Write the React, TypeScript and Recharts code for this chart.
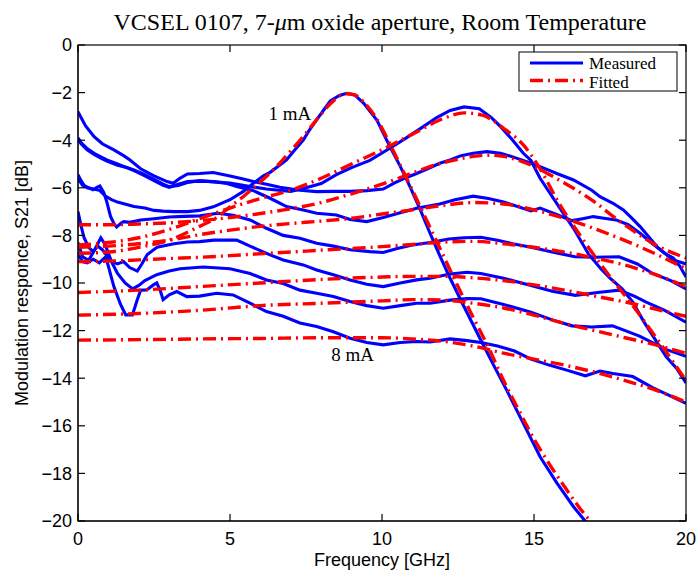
import React from 'react';
import { LineChart, Line, XAxis, YAxis, ReferenceDot } from 'recharts';

const xTicks = [0, 5, 10, 15, 20];
const yTicks = [0, -2, -4, -6, -8, -10, -12, -14, -16, -18, -20];

// Measured responses [frequency GHz, S21 dB]
const measured1mA = [[0,-5.6],[0.15,-5.9],[0.3,-6.0],[0.5,-6.05],[0.7,-6.1],[0.9,-6.35],[1.1,-6.5],[1.3,-6.6],[1.6,-6.7],[1.84,-6.79],[2.2,-6.85],[2.5,-6.95],[2.8,-6.98],[3.16,-7.0],[3.6,-7.0],[4.0,-6.95],[4.45,-6.8],[5.0,-6.5],[5.44,-6.15],[5.77,-5.81],[6.1,-5.5],[6.32,-5.35],[6.86,-4.83],[7.1,-4.45],[7.41,-3.99],[7.6,-3.6],[7.85,-3.15],[8.1,-2.7],[8.3,-2.35],[8.6,-2.12],[8.84,-2.03],[9.1,-2.1],[9.4,-2.45],[9.83,-3.15],[10.26,-4.27],[10.6,-5.1],[10.92,-5.95],[11.25,-6.9],[11.58,-7.91],[11.9,-8.85],[12.24,-9.8],[12.7,-11.0],[13.22,-12.32],[13.65,-13.4],[14.1,-14.5],[14.65,-15.9],[15.2,-17.3],[15.75,-18.4],[16.3,-19.4],[16.68,-20.0],[17.0,-20.6]];
const measured2mA = [[0,-3.9],[0.1,-4.1],[0.3,-4.35],[0.53,-4.55],[0.75,-4.7],[0.95,-4.83],[1.3,-5.0],[1.6,-5.15],[1.84,-5.25],[2.2,-5.45],[2.5,-5.65],[2.8,-5.85],[3.0,-5.95],[3.3,-5.9],[3.6,-5.78],[4.0,-5.7],[4.47,-5.75],[5.0,-5.8],[5.66,-5.95],[6.2,-6.05],[6.6,-6.1],[7.0,-6.15],[7.5,-6.0],[8.0,-5.82],[8.5,-5.45],[9.0,-5.15],[9.6,-4.85],[10.26,-4.34],[10.8,-3.9],[11.36,-3.43],[11.8,-3.05],[12.24,-2.75],[12.7,-2.6],[13.2,-2.68],[13.6,-3.05],[13.9,-3.43],[14.3,-4.0],[14.65,-4.55],[14.9,-4.85],[15.2,-5.6],[15.6,-6.37],[15.9,-6.95],[16.3,-7.7],[16.8,-8.8],[17.2,-9.4],[17.5,-9.8],[17.9,-10.25],[18.25,-10.8],[18.6,-11.6],[18.9,-12.2],[19.35,-13.1],[19.7,-13.6],[20,-14.2]];
const measured3mA = [[0,-2.8],[0.1,-3.05],[0.25,-3.4],[0.53,-3.85],[0.8,-4.15],[1.18,-4.41],[1.5,-4.65],[1.71,-4.83],[2.06,-5.2],[2.5,-5.5],[2.93,-5.74],[3.13,-5.81],[3.35,-5.6],[3.6,-5.42],[4.0,-5.4],[4.45,-5.36],[5.0,-5.5],[5.4,-5.62],[5.77,-5.74],[6.2,-5.85],[6.64,-5.98],[7.3,-6.1],[7.85,-6.16],[8.4,-6.15],[8.95,-6.15],[9.5,-6.12],[10.04,-6.05],[10.4,-5.8],[10.7,-5.62],[11.1,-5.42],[11.5,-5.2],[11.9,-4.97],[12.24,-4.83],[12.6,-4.65],[13.0,-4.55],[13.45,-4.48],[13.9,-4.55],[14.3,-4.7],[14.76,-4.9],[15.2,-5.11],[15.75,-5.4],[16.3,-5.67],[16.9,-6.1],[17.17,-6.37],[17.6,-6.65],[17.94,-6.93],[18.2,-7.25],[18.49,-7.63],[18.8,-8.1],[19.04,-8.47],[19.35,-8.8],[19.58,-9.03],[20,-9.2]];
const measured4mA = [[0,-3.95],[0.1,-4.15],[0.3,-4.4],[0.53,-4.6],[0.75,-4.75],[0.95,-4.88],[1.3,-5.05],[1.6,-5.15],[1.84,-5.28],[2.2,-5.5],[2.5,-5.7],[2.8,-5.9],[3.0,-5.98],[3.3,-5.85],[3.6,-5.74],[4.0,-5.72],[4.47,-5.74],[4.9,-5.82],[5.22,-5.95],[5.77,-6.12],[6.32,-6.44],[6.86,-6.79],[7.41,-6.93],[7.85,-7.07],[8.5,-7.14],[8.95,-7.33],[9.5,-7.42],[10.04,-7.25],[10.6,-7.05],[11.14,-6.86],[11.9,-6.68],[12.4,-6.5],[13.0,-6.35],[13.5,-6.45],[14.0,-6.6],[14.9,-6.97],[15.2,-6.85],[15.7,-7.1],[16.25,-7.38],[16.6,-7.3],[16.95,-7.21],[17.3,-7.28],[17.7,-7.35],[18.1,-7.55],[18.49,-7.91],[18.9,-8.35],[19.3,-8.75],[19.58,-8.95],[19.8,-9.3],[20,-9.75]];
const measured5mA = [[0,-5.45],[0.1,-5.7],[0.2,-5.9],[0.35,-6.0],[0.5,-6.08],[0.62,-5.98],[0.72,-5.92],[0.85,-6.2],[0.95,-6.6],[1.07,-7.2],[1.18,-7.5],[1.27,-7.65],[1.4,-7.5],[1.5,-7.42],[1.7,-7.45],[2.06,-7.35],[2.5,-7.3],[3.0,-7.23],[3.5,-7.2],[4.0,-7.18],[4.6,-7.07],[5.1,-7.15],[5.66,-7.35],[6.2,-7.7],[6.75,-8.0],[7.3,-8.12],[7.85,-8.33],[8.4,-8.45],[8.95,-8.6],[9.6,-8.68],[10.04,-8.72],[10.5,-8.55],[11.0,-8.4],[11.58,-8.3],[12.2,-8.15],[12.7,-8.1],[13.25,-8.08],[13.8,-8.2],[14.3,-8.35],[14.9,-8.5],[15.6,-8.7],[16.35,-8.9],[17.0,-8.92],[17.8,-8.9],[18.4,-9.2],[18.9,-9.6],[19.5,-9.9],[20,-10.25]];
const measured6mA = [[0,-7.0],[0.1,-7.6],[0.2,-8.1],[0.35,-8.5],[0.5,-8.68],[0.65,-8.45],[0.8,-8.6],[0.95,-8.85],[1.1,-9.1],[1.3,-9.2],[1.5,-9.1],[1.7,-9.35],[1.95,-9.5],[2.1,-9.2],[2.28,-8.8],[2.6,-8.5],[3.16,-8.35],[3.6,-8.28],[4.0,-8.26],[4.47,-8.2],[5.22,-8.2],[5.66,-8.45],[6.32,-8.82],[6.75,-9.03],[7.41,-9.24],[7.85,-9.45],[8.4,-9.65],[8.95,-9.87],[9.5,-10.05],[10.04,-10.15],[10.6,-10.0],[11.14,-9.87],[11.58,-9.8],[12.24,-9.62],[12.8,-9.55],[13.25,-9.6],[14.0,-9.8],[14.9,-10.1],[15.6,-10.35],[16.36,-10.52],[17.1,-10.4],[17.8,-10.3],[18.3,-10.55],[18.69,-10.8],[19.3,-11.15],[20,-11.65]];
const measured7mA = [[0,-8.3],[0.15,-8.9],[0.35,-9.05],[0.55,-8.6],[0.75,-8.1],[0.9,-8.4],[1.1,-9.1],[1.3,-9.6],[1.55,-10.0],[1.8,-10.25],[2.0,-10.1],[2.2,-9.9],[2.59,-9.65],[3.0,-9.5],[3.36,-9.4],[4.12,-9.33],[5.0,-9.4],[5.66,-9.6],[6.2,-9.87],[6.75,-10.02],[7.3,-10.3],[7.85,-10.43],[8.4,-10.57],[8.95,-10.78],[9.5,-10.95],[10.04,-11.06],[10.6,-10.95],[11.14,-10.85],[11.58,-10.85],[12.24,-10.72],[12.8,-10.65],[13.25,-10.66],[14.0,-10.9],[14.9,-11.23],[15.6,-11.55],[16.25,-11.8],[16.9,-11.85],[17.58,-11.8],[18.0,-12.0],[18.47,-12.23],[19.36,-12.8],[20,-13.08]];
const measured8mA = [[0,-8.8],[0.15,-9.1],[0.3,-9.15],[0.5,-9.0],[0.7,-9.15],[0.91,-8.9],[1.0,-9.3],[1.18,-10.15],[1.4,-10.9],[1.57,-11.34],[1.79,-11.34],[1.95,-10.7],[2.06,-10.3],[2.26,-10.29],[2.48,-10.08],[2.59,-10.0],[2.7,-10.3],[2.8,-10.7],[3.0,-10.5],[3.25,-10.36],[3.58,-10.57],[4.0,-10.55],[4.56,-10.43],[5.1,-10.5],[5.66,-10.85],[6.2,-11.2],[6.75,-11.4],[7.3,-11.68],[7.85,-11.83],[8.4,-12.05],[8.95,-12.32],[9.5,-12.5],[10.04,-12.6],[10.6,-12.5],[11.14,-12.46],[11.58,-12.48],[12.24,-12.35],[12.8,-12.42],[13.25,-12.5],[13.8,-12.65],[14.36,-12.86],[14.9,-13.2],[15.5,-13.45],[16.02,-13.64],[16.69,-13.9],[17.17,-13.7],[17.6,-13.8],[18.25,-13.93],[18.9,-14.4],[19.5,-14.75],[20,-15.06]];

// Fitted responses [frequency GHz, S21 dB]
const fitted1mA = [[0,-8.75],[1,-8.7],[2,-8.5],[3,-8.2],[4,-7.62],[4.5,-7.3],[5,-6.8],[5.5,-6.3],[6,-5.75],[6.5,-5.15],[7,-4.45],[7.5,-3.7],[8,-2.9],[8.4,-2.35],[8.8,-2.05],[9.1,-2.1],[9.4,-2.4],[9.8,-3.05],[10.2,-4.0],[10.6,-5.05],[11,-6.1],[11.5,-7.45],[12,-8.8],[12.5,-10.15],[13,-11.45],[13.5,-12.7],[14,-14.1],[14.5,-15.35],[15,-16.55],[15.5,-17.6],[16,-18.55],[16.5,-19.45],[16.84,-20.0],[17.2,-20.65]];
const fitted2mA = [[0,-8.4],[1,-8.3],[2,-8.1],[3,-7.75],[4,-7.3],[5,-6.85],[6,-6.45],[7,-6.1],[8,-5.6],[9,-5.0],[10,-4.4],[11,-3.75],[12,-3.1],[12.7,-2.85],[13.3,-2.95],[14,-3.5],[14.65,-4.2],[15.2,-5.2],[15.8,-6.6],[16.57,-8.1],[17.36,-9.5],[18.25,-10.95],[19.13,-12.5],[20,-14.1]];
const fitted3mA = [[0,-7.55],[1,-7.55],[2,-7.52],[3,-7.47],[4,-7.38],[5,-7.25],[6,-7.08],[7,-6.88],[8,-6.62],[9,-6.25],[10,-5.85],[11,-5.38],[11.6,-5.1],[12,-4.95],[12.5,-4.8],[13,-4.68],[13.5,-4.63],[14,-4.68],[14.5,-4.85],[15,-5.1],[15.75,-5.62],[16.4,-6.1],[17,-6.6],[17.6,-7.2],[18.2,-7.75],[19,-8.4],[20,-8.95]];
const fitted4mA = [[0,-8.5],[1,-8.45],[2,-8.35],[3,-8.2],[4,-7.97],[5,-7.78],[6,-7.62],[7,-7.5],[8,-7.4],[9,-7.28],[10,-7.1],[11,-6.93],[12,-6.74],[13,-6.62],[14,-6.68],[15,-6.93],[16,-7.28],[17,-7.72],[18,-8.22],[19,-8.78],[20,-9.4]];
const fitted5mA = [[0,-9.1],[1,-9.08],[2,-9.03],[3,-8.97],[4,-8.92],[5,-8.85],[6,-8.77],[7,-8.7],[8,-8.62],[9,-8.55],[10,-8.47],[11,-8.38],[12,-8.28],[13,-8.25],[14,-8.35],[15,-8.5],[16,-8.7],[17,-8.95],[18,-9.25],[19,-9.65],[20,-10.15]];
const fitted6mA = [[0,-10.4],[2,-10.3],[4,-10.15],[6,-10.0],[8,-9.85],[10,-9.75],[11,-9.72],[12,-9.72],[13,-9.78],[14,-9.9],[15,-10.08],[16,-10.3],[17,-10.55],[18,-10.8],[19,-11.1],[20,-11.4]];
const fitted7mA = [[0,-11.35],[2,-11.28],[4,-11.15],[6,-10.95],[8,-10.85],[10,-10.75],[11,-10.7],[12,-10.72],[13,-10.85],[14,-11.05],[15,-11.35],[16,-11.7],[17,-12.0],[18,-12.3],[19,-12.6],[20,-12.95]];
const fitted8mA = [[0,-12.4],[2,-12.38],[4,-12.35],[6,-12.33],[8,-12.3],[10,-12.3],[11,-12.35],[12,-12.45],[13,-12.65],[14,-12.95],[15,-13.2],[16,-13.45],[17,-13.75],[18,-14.1],[19,-14.5],[20,-15.0]];

const measuredSeries = [measured1mA, measured2mA, measured3mA, measured4mA, measured5mA, measured6mA, measured7mA, measured8mA];
const fittedSeries = [fitted1mA, fitted2mA, fitted3mA, fitted4mA, fitted5mA, fitted6mA, fitted7mA, fitted8mA];

const toPts = (a: number[][]) => a.map(([f, v]) => ({ f, v }));
const fmt = (v: number) => (v < 0 ? '\u2212' + Math.abs(v) : String(v));

const X_MIN = 0, X_MAX = 20, Y_MIN = -20, Y_MAX = 0;

// Layout of the chart frame
const W = 697, H = 571;
const M = { top: 45, right: 11, bottom: 20, left: 8 };
const Y_AXIS_W = 70, X_AXIS_H = 30;
const PL = M.left + Y_AXIS_W;            // plot left
const PR = W - M.right;                  // plot right
const PT = M.top;                        // plot top
const PB = H - M.bottom - X_AXIS_H;      // plot bottom
const TL = 7;                            // inward tick length
const px = (v: number) => PL + ((v - X_MIN) / (X_MAX - X_MIN)) * (PR - PL);
const py = (v: number) => PT + ((Y_MAX - v) / (Y_MAX - Y_MIN)) * (PB - PT);

const BLUE = '#0000ff';
const RED = '#ff0000';
const DASH = '13 5 2 5';
const SANS = '"Liberation Sans", Arial, sans-serif';
const SERIF = '"Liberation Serif", "Times New Roman", serif';

export default function App() {
  return (
    <div style={{ position: 'absolute', left: 0, top: 0, width: W, height: H, background: '#fff' }}>
      <LineChart width={W} height={H} margin={M}>
        <XAxis xAxisId="b" dataKey="f" type="number" domain={[X_MIN, X_MAX]} ticks={xTicks} allowDataOverflow
          height={X_AXIS_H} tickSize={0} tickMargin={11} tickLine={false} stroke="#000"
          tick={{ fill: '#000', fontSize: 18, fontFamily: SANS }} />
        <YAxis yAxisId="l" type="number" domain={[Y_MIN, Y_MAX]} ticks={yTicks} allowDataOverflow
          width={Y_AXIS_W} tickSize={0} tickMargin={6} tickLine={false} stroke="#000" tickFormatter={fmt}
          tick={{ fill: '#000', fontSize: 18, fontFamily: SANS }} />
        {measuredSeries.map((s, i) => (
          <Line key={'m' + i} xAxisId="b" yAxisId="l" data={toPts(s)} dataKey="v" type="linear"
            stroke={BLUE} strokeWidth={3.1} dot={false} isAnimationActive={false} />
        ))}
        {fittedSeries.map((s, i) => (
          <Line key={'f' + i} xAxisId="b" yAxisId="l" data={toPts(s)} dataKey="v" type="monotone"
            stroke={RED} strokeWidth={3.4} strokeDasharray={DASH} dot={false} isAnimationActive={false} />
        ))}
        <ReferenceDot xAxisId="b" yAxisId="l" x={6.97} y={-2.86} r={0} fill="none" stroke="none"
          label={{ value: '1 mA', position: 'center', fill: '#000', fontSize: 19, fontFamily: SERIF }} />
        <ReferenceDot xAxisId="b" yAxisId="l" x={9.03} y={-13.0} r={0} fill="none" stroke="none"
          label={{ value: '8 mA', position: 'center', fill: '#000', fontSize: 19, fontFamily: SERIF }} />
      </LineChart>
      <svg width={W} height={H} viewBox={`0 0 ${W} ${H}`}
        style={{ position: 'absolute', left: 0, top: 0, pointerEvents: 'none', zIndex: 5 }}>
        <g stroke="#000" strokeWidth={1.2} fill="none">
          <rect x={PL} y={PT} width={PR - PL} height={PB - PT} />
          {xTicks.map((t) => (
            <g key={'xt' + t}>
              <line x1={px(t)} x2={px(t)} y1={PB} y2={PB - TL} />
              <line x1={px(t)} x2={px(t)} y1={PT} y2={PT + TL} />
            </g>
          ))}
          {yTicks.map((t) => (
            <g key={'yt' + t}>
              <line x1={PL} x2={PL + TL} y1={py(t)} y2={py(t)} />
              <line x1={PR} x2={PR - TL} y1={py(t)} y2={py(t)} />
            </g>
          ))}
        </g>
        <text x={380} y={30} textAnchor="middle" fontFamily={SERIF} fontSize={24} fill="#000">
          VCSEL 0107, 7-<tspan fontStyle="italic">μ</tspan>m oxide aperture, Room Temperature
        </text>
        <text x={382} y={566} textAnchor="middle" fontFamily={SANS} fontSize={18} fill="#000">Frequency [GHz]</text>
        <text transform="translate(28,283) rotate(-90)" textAnchor="middle" fontFamily={SANS} fontSize={18} fill="#000">
          Modulation responce, S21 [dB]
        </text>
        <rect x={519} y={52} width={158} height={39} fill="#fff" stroke="#000" strokeWidth={1} />
        <line x1={530} x2={583} y1={63} y2={63} stroke={BLUE} strokeWidth={3.1} />
        <line x1={530} x2={583} y1={80.5} y2={80.5} stroke={RED} strokeWidth={3.4} strokeDasharray={DASH} />
        <text x={589} y={69} fontFamily={SERIF} fontSize={17} fill="#000">Measured</text>
        <text x={589} y={87.5} fontFamily={SERIF} fontSize={17} fill="#000">Fitted</text>
      </svg>
    </div>
  );
}
